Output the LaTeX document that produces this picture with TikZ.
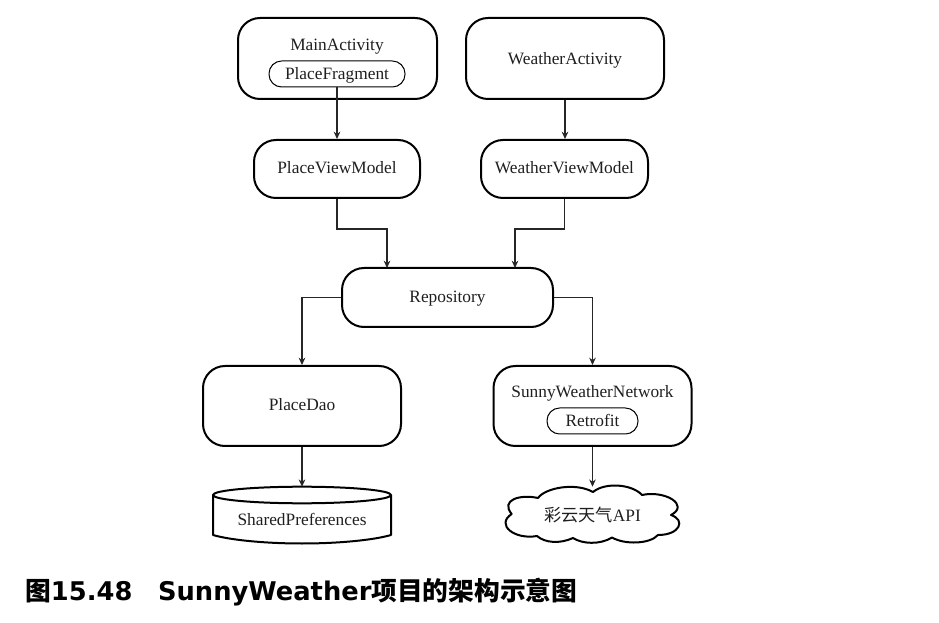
\documentclass[tikz,border=0pt]{standalone}
\usepackage{fontspec}
\setmainfont{Liberation Serif}
\newfontfamily\cjk{Noto Sans CJK SC}
\newfontfamily\capfont{DejaVu Sans}
\usetikzlibrary{arrows.meta}
\tikzset{
  lbl/.style={font=\fontsize{13}{15}\selectfont,text=black!88},
  bigbox/.style={draw,line width=1.5pt,rounded corners=16.5pt,inner sep=0pt},
  smallbox/.style={draw,line width=0.75pt,rounded corners=9.5pt,inner sep=0pt},
  hidden/.style={inner sep=0pt},
  conn/.style={draw=black!85,line width=0.8pt,-{Stealth[length=5.5pt,width=5pt]}},
  solid outline/.style={line width=1.5pt,line join=round}
}
\begin{document}
\begin{tikzpicture}[x=0.75pt,y=-0.75pt]
\useasboundingbox (0,0) rectangle (939,623);
\node[bigbox,minimum width=149.25pt,minimum height=60.75pt] (main) at (337.5,58.5) {};
\node[lbl] (mainlabel) at (337,47) {MainActivity};
\node[smallbox,minimum width=102pt,minimum height=19.5pt] (frag) at (337,74) {};
\node[lbl] (fraglabel) at (337,75) {PlaceFragment};
\node[bigbox,minimum width=148.5pt,minimum height=60.75pt] (wact) at (565,58.5) {};
\node[lbl] (wactlabel) at (565,60) {WeatherActivity};
\node[bigbox,minimum width=124.5pt,minimum height=43.5pt] (pvm) at (337,169) {};
\node[lbl] (pvmlabel) at (337,167.5) {PlaceViewModel};
\node[bigbox,minimum width=125.25pt,minimum height=43.5pt] (wvm) at (564.5,169) {};
\node[lbl] (wvmlabel) at (564.5,167.5) {WeatherViewModel};
\node[bigbox,minimum width=158.25pt,minimum height=44.25pt] (repo) at (447.5,297.5) {};
\node[lbl] (repolabel) at (447.5,299) {Repository};
\node[bigbox,minimum width=148.5pt,minimum height=60pt] (dao) at (302,406) {};
\node[lbl] (daolabel) at (302,404.5) {PlaceDao};
\node[bigbox,minimum width=148.5pt,minimum height=60pt] (net) at (592.5,406) {};
\node[lbl] (netlabel) at (592.5,393) {SunnyWeatherNetwork};
\node[smallbox,minimum width=68.25pt,minimum height=19.5pt] (retro) at (592.5,421) {};
\node[lbl] (retrolabel) at (592.5,420.5) {Retrofit};
% cylinder
\draw[solid outline] (213,495) -- (213,535) .. controls (230,540) and (265,543.5) .. (302,543.5)
  .. controls (339,543.5) and (374,540) .. (391,535) -- (391,495);
\draw[solid outline] (302,495) ellipse [x radius=89,y radius=8.3];
\node[hidden,minimum width=133.5pt,minimum height=42pt] (spref) at (302,515) {};
\node[lbl] (sptext) at (302,519) {SharedPreferences};
% cloud
\draw[solid outline] (511.7,514)
  .. controls (500,500) and (520,494) .. (538,498)
  .. controls (545,488) and (575,482) .. (593,492)
  .. controls (605,482) and (632,484) .. (642,495)
  .. controls (665,490) and (690,505) .. (671,515)
  .. controls (686,520) and (680,535) .. (658,535)
  .. controls (650,544) and (625,545) .. (612,537.5)
  .. controls (600,545) and (582,544) .. (573,538)
  .. controls (560,544) and (545,543) .. (537,536)
  .. controls (515,540) and (495,525) .. (511.7,514) -- cycle;
\node[hidden,minimum width=132pt,minimum height=42pt] (cloud) at (592,515) {};
\node[lbl] (cloudtext) at (592.5,515) {{\cjk\fontsize{12.9}{15}\selectfont 彩云天气}API};
% connectors
\path[conn] (frag.south) -- (pvm.north);
\path[conn] (wact.south) -- (wact.south |- wvm.north);
\path[conn] (pvm.south) |- (387,229) -- (387,268);
\path[conn] (wvm.south) |- (515,229) -- (515,268);
\path[conn] (repo.west) -| (dao.north);
\path[conn] (repo.east) -| (net.north);
\path[conn] (dao.south) -- (spref.north);
\path[conn] (net.south) -- (net.south |- cloud.north);
% caption
\node[anchor=base west,inner sep=0pt] (caption) at (25,600) {\capfont\bfseries\fontsize{19.3}{22}\selectfont
  {\cjk\bfseries\fontsize{19.3}{22}\selectfont 图}15.48\hspace{19.3pt}SunnyWeather{\cjk\bfseries\fontsize{19.3}{22}\selectfont 项目的架构示意图}};
\end{tikzpicture}
\end{document}
